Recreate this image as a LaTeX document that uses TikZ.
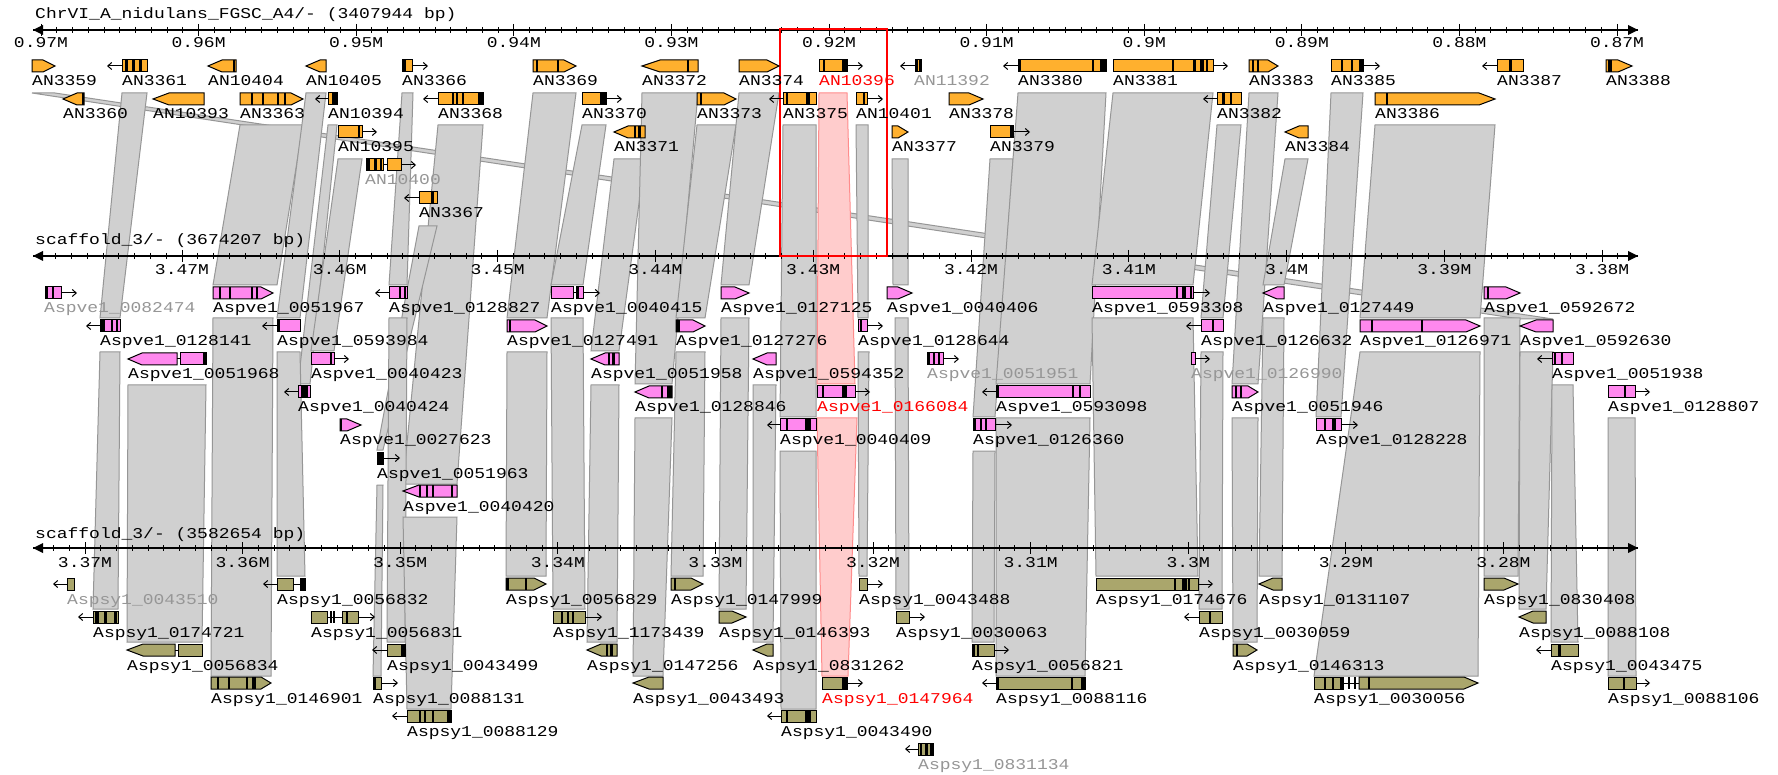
\documentclass[tikz,border=0pt]{standalone}
\usepackage{fontspec}
\newfontfamily\labfont[FakeStretch=1.2]{Liberation Mono}
\usetikzlibrary{arrows.meta}
\definecolor{orng}{RGB}{255,176,46}
\definecolor{pnk}{RGB}{255,136,238}
\definecolor{olv}{RGB}{170,166,108}
\definecolor{synfill}{RGB}{208,208,208}
\definecolor{synline}{RGB}{150,150,150}
\definecolor{redfill}{RGB}{255,204,204}
\definecolor{redline}{RGB}{255,140,140}
\definecolor{greytext}{RGB}{150,150,150}
\tikzset{
 gene/.style={draw=black,line width=1pt},
 stripe/.style={black,line width=1.6pt},
 dirarrow/.style={black,line width=1pt,-{Straight Barb[length=4pt,width=7pt]}},
 synp/.style={fill=synfill,draw=synline,line width=1pt},
 synr/.style={fill=redfill,draw=redline,line width=1pt},
 lbl/.style={anchor=base west,inner sep=0pt,font={\labfont\fontsize{15}{15}\selectfont}},
 ticklab/.style={anchor=base,inner sep=0pt,font={\labfont\fontsize{15}{15}\selectfont}},
 axisline/.style={black,line width=1.2pt},
}
\newcommand{\gB}[4]{\draw[gene,fill=#4] (#1,{#3-6}) rectangle (#2,{#3+6});}
\newcommand{\gR}[5]{\draw[gene,fill=#4] (#1,{#3-6}) -- ({#2-#5},{#3-6}) -- (#2,#3) -- ({#2-#5},{#3+6}) -- (#1,{#3+6}) -- cycle;}
\newcommand{\gL}[5]{\draw[gene,fill=#4] (#2,{#3-6}) -- ({#1+#5},{#3-6}) -- (#1,#3) -- ({#1+#5},{#3+6}) -- (#2,{#3+6}) -- cycle;}
\newcommand{\gst}[2]{\draw[stripe] (#1,{#2-6}) -- (#1,{#2+6});}
\newcommand{\gbk}[3]{\fill[black] (#1,{#3-6}) rectangle (#2,{#3+6});}
\newcommand{\gar}[3]{\draw[dirarrow] (#1,#3) -- (#2,#3);}
\newcommand{\gin}[3]{\draw[black,line width=1pt] (#1,#3) -- (#2,#3);}
\newcommand{\lan}[4]{\node[lbl,text=#4] (AN#1) at (#2,{#3+20}) {AN#1};}
\newcommand{\la}[5]{\node[lbl,text=#5] (#1-#2) at (#3,{#4+20}) {#1\_#2};}
\newcommand{\syn}[6]{\draw[synp] (#1,#3) -- (#2,#3) -- (#5,#6) -- (#4,#6) -- cycle;}
\newcommand{\synR}[6]{\draw[synr] (#1,#3) -- (#2,#3) -- (#5,#6) -- (#4,#6) -- cycle;}
\newcommand{\drawaxis}[3]{%
  \draw[axisline] (33,#1) -- (1638,#1);
  \foreach \i in {-10,...,100} {%
    \pgfmathsetmacro\xx{#2+\i*#3}%
    \ifdim\xx pt>44pt \ifdim\xx pt<1628pt \draw[black,line width=1pt] (\xx,{#1-3}) -- (\xx,{#1+3}); \fi\fi}
  \fill[black] (33,#1) -- (43,{#1-5}) -- (43,{#1+5}) -- cycle;
  \fill[black] (1638,#1) -- (1628,{#1-5}) -- (1628,{#1+5}) -- cycle;
}
\begin{document}
\begin{tikzpicture}[x=1pt,y=-1pt]
\fill[white] (0,0) rectangle (1778,775);
\useasboundingbox (0,0) rectangle (1778,775);

% ---------- synteny track1 -> track2
\syn{32}{55}{93}{1520}{1553}{319}
\syn{122}{147}{93}{100}{120}{318}
\syn{240}{303}{125}{213}{277}{285}
\syn{306}{326}{93}{277}{300}{318}
\syn{328}{337}{125}{298}{310}{384}
\syn{338}{362}{159}{311}{334}{351}
\syn{402}{413}{93}{389}{407}{285}
\syn{438}{483}{125}{403}{457}{484}
\syn{419}{437}{226}{377}{383}{450}
\syn{533}{576}{93}{507}{547}{318}
\syn{582}{606}{125}{551}{583}{285}
\syn{614}{645}{159}{591}{619}{351}
\syn{642}{698}{93}{635}{672}{384}
\syn{697}{736}{125}{676}{705}{318}
\syn{739}{779}{93}{721}{749}{285}
\syn{783}{816}{125}{780}{816}{417}
\synR{819}{847}{93}{817}{855}{384}
\syn{856}{868}{125}{858}{868}{318}
\syn{892}{908}{159}{893}{908}{285}
\syn{990}{1013}{159}{973}{995}{417}
\syn{1018}{1106}{93}{996}{1090}{384}
\syn{1113}{1213}{93}{1092}{1193}{285}
\syn{1217}{1241}{125}{1201}{1223}{318}
\syn{1249}{1278}{93}{1232}{1258}{384}
\syn{1285}{1308}{159}{1263}{1284}{285}
\syn{1331}{1363}{93}{1316}{1341}{417}
\syn{1375}{1495}{125}{1360}{1480}{318}
% ---------- synteny track2 -> track3
\syn{100}{120}{352}{93}{118}{609}
\syn{128}{206}{385}{127}{202}{642}
\syn{213}{273}{318}{211}{271}{676}
\syn{277}{300}{352}{277}{305}{576}
\syn{389}{407}{318}{387}{405}{642}
\syn{377}{383}{485}{373}{381}{676}
\syn{403}{457}{517}{407}{451}{709}
\syn{507}{547}{352}{506}{546}{576}
\syn{551}{583}{318}{553}{585}{609}
\syn{591}{619}{385}{587}{617}{642}
\syn{635}{672}{418}{633}{663}{676}
\syn{676}{705}{352}{671}{703}{576}
\syn{721}{749}{318}{719}{746}{609}
\syn{753}{776}{385}{753}{773}{642}
\syn{780}{816}{451}{781}{816}{709}
\synR{817}{857}{418}{822}{848}{676}
\syn{858}{869}{352}{859}{867}{576}
\syn{895}{908}{318}{896}{909}{609}
\syn{973}{995}{451}{972}{994}{642}
\syn{996}{1090}{418}{996}{1085}{676}
\syn{1092}{1193}{318}{1096}{1198}{576}
\syn{1201}{1223}{352}{1199}{1222}{609}
\syn{1232}{1258}{418}{1233}{1257}{642}
\syn{1263}{1284}{318}{1259}{1282}{576}
\syn{1360}{1480}{352}{1314}{1478}{676}
\syn{1484}{1520}{318}{1484}{1518}{576}
\syn{1520}{1553}{352}{1519}{1546}{609}
\syn{1552}{1573}{385}{1551}{1578}{642}
\syn{1608}{1635}{418}{1608}{1636}{676}

% ---------- axes
\node[lbl] (t1) at (35,19) {ChrVI\_A\_nidulans\_FGSC\_A4/- (3407944 bp)};
\drawaxis{30}{41}{15.76}
\foreach \k/\t in {0/0.97M,1/0.96M,2/0.95M,3/0.94M,4/0.93M,5/0.92M,6/0.91M,7/0.9M,8/0.89M,9/0.88M,10/0.87M}{
  \pgfmathsetmacro\xx{41+\k*157.6}
  \draw[black,line width=1pt] (\xx,24) -- (\xx,36);
  \node[ticklab] (ta\k) at (\xx,48) {\t};}
\node[lbl] (t2) at (35,245) {scaffold\_3/- (3674207 bp)};
\drawaxis{256}{182}{15.78}
\foreach \k/\t in {0/3.47M,1/3.46M,2/3.45M,3/3.44M,4/3.43M,5/3.42M,6/3.41M,7/3.4M,8/3.39M,9/3.38M}{
  \pgfmathsetmacro\xx{182+\k*157.8}
  \draw[black,line width=1pt] (\xx,250) -- (\xx,262);
  \node[ticklab] (tb\k) at (\xx,275) {\t};}
\node[lbl] (t3) at (35,538) {scaffold\_3/- (3582654 bp)};
\drawaxis{548}{85}{15.76}
\foreach \k/\t in {0/3.37M,1/3.36M,2/3.35M,3/3.34M,4/3.33M,5/3.32M,6/3.31M,7/3.3M,8/3.29M,9/3.28M}{
  \pgfmathsetmacro\xx{85+\k*157.6}
  \draw[black,line width=1pt] (\xx,542) -- (\xx,554);
  \node[ticklab] (tc\k) at (\xx,567) {\t};}

\draw[red,line width=1.5pt] (780,29) rectangle (887,256);

% ---------- track 1 genes
% row 1 (66)
\gR{32}{55}{66}{orng}{12} \lan{3359}{32}{66}{black}
\gar{122}{107}{66} \gB{122}{147}{66}{orng} \gbk{125}{128}{66} \gbk{132}{135}{66} \gbk{139}{142}{66} \lan{3361}{122}{66}{black}
\gL{208}{236}{66}{orng}{14} \gst{234}{66} \lan{10404}{208}{66}{black}
\gL{306}{326}{66}{orng}{14} \lan{10405}{306}{66}{black}
\gB{402}{412}{66}{orng} \gbk{402}{406}{66} \gar{412}{428}{66} \lan{3366}{402}{66}{black}
\gR{533}{576}{66}{orng}{12} \gst{537}{66} \gst{558}{66} \lan{3369}{533}{66}{black}
\gL{642}{698}{66}{orng}{18} \gst{688}{66} \lan{3372}{642}{66}{black}
\gR{739}{779}{66}{orng}{12} \lan{3374}{739}{66}{black}
\gB{819}{847}{66}{orng} \gst{824}{66} \gbk{842}{847}{66} \gar{847}{863}{66} \lan{10396}{819}{66}{red}
\gar{915}{900}{66} \gB{915}{921}{66}{orng} \gst{917}{66} \gst{920}{66} \lan{11392}{914}{66}{greytext}
\gar{1018}{1003}{66} \gB{1018}{1106}{66}{orng} \gst{1020}{66} \gst{1093}{66} \gbk{1100}{1106}{66} \lan{3380}{1018}{66}{black}
\gB{1113}{1213}{66}{orng} \gst{1173}{66} \gbk{1193}{1196}{66} \gbk{1200}{1204}{66} \gst{1207}{66} \gar{1213}{1228}{66} \lan{3381}{1113}{66}{black}
\gR{1249}{1278}{66}{orng}{10} \gst{1253}{66} \gst{1258}{66} \lan{3383}{1249}{66}{black}
\gB{1331}{1363}{66}{orng} \gst{1342}{66} \gst{1352}{66} \gbk{1359}{1363}{66} \gar{1363}{1380}{66} \lan{3385}{1331}{66}{black}
\gar{1497}{1482}{66} \gB{1497}{1523}{66}{orng} \gbk{1509}{1512}{66} \lan{3387}{1497}{66}{black}
\gR{1606}{1632}{66}{orng}{14} \gbk{1608}{1612}{66} \lan{3388}{1606}{66}{black}
% row 2 (99)
\gL{63}{84}{99}{orng}{14} \gst{83}{99} \lan{3360}{63}{99}{black}
\gL{153}{204}{99}{orng}{16} \lan{10393}{153}{99}{black}
\gR{240}{303}{99}{orng}{12} \gst{252}{99} \gst{263}{99} \gst{278}{99} \gst{285}{99} \lan{3363}{240}{99}{black}
\gar{328}{315}{99} \gB{328}{337}{99}{orng} \gbk{332}{337}{99} \lan{10394}{328}{99}{black}
\gar{438}{423}{99} \gB{438}{483}{99}{orng} \gst{453}{99} \gst{457}{99} \gst{463}{99} \gbk{478}{483}{99} \lan{3368}{438}{99}{black}
\gB{582}{606}{99}{orng} \gbk{600}{606}{99} \gar{606}{622}{99} \lan{3370}{582}{99}{black}
\gR{697}{736}{99}{orng}{12} \gst{701}{99} \lan{3373}{697}{99}{black}
\gar{783}{769}{99} \gB{783}{816}{99}{orng} \gst{787}{99} \gbk{806}{810}{99} \lan{3375}{783}{99}{black}
\gB{856}{867}{99}{orng} \gst{864}{99} \gar{867}{883}{99} \lan{10401}{856}{99}{black}
\gR{949}{983}{99}{orng}{14} \lan{3378}{949}{99}{black}
\gar{1217}{1203}{99} \gB{1217}{1241}{99}{orng} \gbk{1222}{1225}{99} \gst{1231}{99} \lan{3382}{1217}{99}{black}
\gR{1375}{1495}{99}{orng}{16} \gst{1387}{99} \lan{3386}{1375}{99}{black}
% row 3 (132)
\gB{338}{362}{132}{orng} \gst{359}{132} \gar{362}{377}{132} \lan{10395}{338}{132}{black}
\gL{614}{645}{132}{orng}{14} \gst{635}{132} \gbk{638}{641}{132} \lan{3371}{614}{132}{black}
\gR{892}{908}{132}{orng}{10} \lan{3377}{892}{132}{black}
\gB{990}{1013}{132}{orng} \gbk{1010}{1013}{132} \gar{1013}{1030}{132} \lan{3379}{990}{132}{black}
\gL{1285}{1308}{132}{orng}{14} \lan{3384}{1285}{132}{black}
% row 4 (165)
\gin{383}{387}{165} \gB{366}{383}{165}{orng} \gbk{367}{370}{165} \gbk{374}{377}{165} \gst{381}{165}
\gB{387}{401}{165}{orng} \gar{401}{416}{165} \lan{10400}{365}{165}{greytext}
% row 5 (198)
\gar{419}{404}{198} \gB{419}{437}{198}{orng} \gbk{431}{434}{198} \lan{3367}{419}{198}{black}

% ---------- track 2 genes
% row 1 (293)
\gB{45}{61}{293}{pnk} \gbk{45}{48}{293} \gst{53}{293} \gar{61}{77}{293} \la{Aspve1}{0082474}{44}{293}{greytext}
\gR{213}{273}{293}{pnk}{12} \gst{220}{293} \gst{230}{293} \gst{252}{293} \gst{257}{293} \la{Aspve1}{0051967}{213}{293}{black}
\gar{389}{375}{293} \gB{389}{407}{293}{pnk} \gst{400}{293} \gst{405}{293} \la{Aspve1}{0128827}{389}{293}{black}
\gB{551}{573}{293}{pnk} \gin{573}{576}{293} \gB{576}{583}{293}{pnk} \gst{578}{293} \gar{583}{600}{293} \la{Aspve1}{0040415}{551}{293}{black}
\gR{721}{749}{293}{pnk}{14} \la{Aspve1}{0127125}{721}{293}{black}
\gR{887}{912}{293}{pnk}{14} \la{Aspve1}{0040406}{887}{293}{black}
\gB{1092}{1193}{293}{pnk} \gst{1177}{293} \gbk{1182}{1186}{293} \gst{1191}{293} \gar{1193}{1210}{293} \la{Aspve1}{0593308}{1092}{293}{black}
\gL{1263}{1284}{293}{pnk}{14} \la{Aspve1}{0127449}{1263}{293}{black}
\gR{1484}{1520}{293}{pnk}{14} \gst{1488}{293} \la{Aspve1}{0592672}{1484}{293}{black}
% row 2 (326)
\gar{100}{86}{326} \gB{100}{120}{326}{pnk} \gbk{100}{105}{326} \gst{112}{326} \gst{117}{326} \la{Aspve1}{0128141}{100}{326}{black}
\gar{277}{262}{326} \gB{277}{300}{326}{pnk} \gst{279}{326} \la{Aspve1}{0593984}{277}{326}{black}
\gR{507}{547}{326}{pnk}{12} \gst{510}{326} \la{Aspve1}{0127491}{507}{326}{black}
\gR{676}{705}{326}{pnk}{12} \gbk{676}{680}{326} \la{Aspve1}{0127276}{676}{326}{black}
\gB{858}{867}{326}{pnk} \gst{861}{326} \gar{867}{883}{326} \la{Aspve1}{0128644}{858}{326}{black}
\gar{1201}{1186}{326} \gB{1201}{1223}{326}{pnk} \gst{1213}{326} \la{Aspve1}{0126632}{1201}{326}{black}
\gR{1360}{1480}{326}{pnk}{14} \gst{1372}{326} \gst{1422}{326} \la{Aspve1}{0126971}{1360}{326}{black}
\gL{1520}{1553}{326}{pnk}{16} \la{Aspve1}{0592630}{1520}{326}{black}
% row 3 (359)
\gL{128}{177}{359}{pnk}{14} \gin{177}{180}{359} \gB{180}{206}{359}{pnk} \gbk{203}{206}{359} \la{Aspve1}{0051968}{128}{359}{black}
\gB{311}{334}{359}{pnk} \gst{331}{359} \gar{334}{349}{359} \la{Aspve1}{0040423}{311}{359}{black}
\gL{591}{619}{359}{pnk}{14} \gst{609}{359} \gbk{612}{615}{359} \la{Aspve1}{0051958}{591}{359}{black}
\gL{753}{776}{359}{pnk}{14} \la{Aspve1}{0594352}{753}{359}{black}
\gB{927}{943}{359}{pnk} \gst{929}{359} \gst{934}{359} \gst{939}{359} \gar{943}{959}{359} \la{Aspve1}{0051951}{927}{359}{greytext}
\gB{1191}{1195}{359}{pnk} \gar{1195}{1210}{359} \la{Aspve1}{0126990}{1191}{359}{greytext}
\gar{1552}{1537}{359} \gB{1552}{1573}{359}{pnk} \gst{1555}{359} \gst{1562}{359} \la{Aspve1}{0051938}{1552}{359}{black}
% row 4 (392)
\gar{298}{284}{392} \gB{298}{310}{392}{pnk} \gbk{301}{308}{392} \la{Aspve1}{0040424}{298}{392}{black}
\gL{635}{672}{392}{pnk}{14} \gst{662}{392} \gbk{667}{672}{392} \la{Aspve1}{0128846}{635}{392}{black}
\gB{817}{855}{392}{pnk} \gst{823}{392} \gbk{842}{847}{392} \gar{855}{870}{392} \la{Aspve1}{0166084}{817}{392}{red}
\gar{996}{982}{392} \gB{996}{1090}{392}{pnk} \gbk{996}{999}{392} \gst{1073}{392} \gst{1080}{392} \la{Aspve1}{0593098}{996}{392}{black}
\gR{1232}{1258}{392}{pnk}{10} \gst{1236}{392} \gst{1241}{392} \la{Aspve1}{0051946}{1232}{392}{black}
\gB{1608}{1635}{392}{pnk} \gst{1625}{392} \gar{1635}{1650}{392} \la{Aspve1}{0128807}{1608}{392}{black}
% row 5 (425)
\gR{340}{361}{425}{pnk}{14} \gst{341}{425} \la{Aspve1}{0027623}{340}{425}{black}
\gar{780}{767}{425} \gB{780}{816}{425}{pnk} \gst{787}{425} \gbk{805}{811}{425} \la{Aspve1}{0040409}{780}{425}{black}
\gB{973}{995}{425}{pnk} \gst{975}{425} \gst{981}{425} \gst{986}{425} \gar{995}{1012}{425} \la{Aspve1}{0126360}{973}{425}{black}
\gB{1316}{1341}{425}{pnk} \gst{1325}{425} \gbk{1332}{1336}{425} \gar{1341}{1358}{425} \la{Aspve1}{0128228}{1316}{425}{black}
% row 6 (458)
\gB{377}{383}{458}{pnk} \gbk{377}{383}{458} \gar{383}{400}{458} \la{Aspve1}{0051963}{377}{458}{black}
% row 7 (491)
\gL{403}{457}{491}{pnk}{16} \gst{420}{491} \gst{427}{491} \gst{433}{491} \gst{452}{491} \la{Aspve1}{0040420}{403}{491}{black}

% ---------- track 3 genes
% row 1 (584)
\gar{67}{53}{584} \gB{67}{74}{584}{olv} \la{Aspsy1}{0043510}{67}{584}{greytext}
\gar{277}{263}{584} \gB{277}{293}{584}{olv} \gin{293}{300}{584} \gB{300}{305}{584}{olv} \gbk{301}{305}{584} \la{Aspsy1}{0056832}{277}{584}{black}
\gR{506}{546}{584}{olv}{12} \gbk{506}{509}{584} \gst{526}{584} \la{Aspsy1}{0056829}{506}{584}{black}
\gR{671}{703}{584}{olv}{12} \gst{675}{584} \la{Aspsy1}{0147999}{671}{584}{black}
\gB{859}{867}{584}{olv} \gar{867}{883}{584} \la{Aspsy1}{0043488}{859}{584}{black}
\gB{1096}{1198}{584}{olv} \gst{1175}{584} \gbk{1182}{1187}{584} \gst{1189}{584} \gar{1198}{1213}{584} \la{Aspsy1}{0174676}{1096}{584}{black}
\gL{1259}{1282}{584}{olv}{14} \la{Aspsy1}{0131107}{1259}{584}{black}
\gR{1484}{1518}{584}{olv}{14} \la{Aspsy1}{0830408}{1484}{584}{black}
% row 2 (617)
\gar{93}{78}{617} \gB{93}{118}{617}{olv} \gbk{95}{99}{617} \gbk{104}{107}{617} \gbk{114}{117}{617} \la{Aspsy1}{0174721}{93}{617}{black}
\gin{327}{342}{617} \gB{311}{327}{617}{olv} \gst{331}{617} \gst{334}{617} \gB{342}{358}{617}{olv} \gst{347}{617} \gar{358}{375}{617} \la{Aspsy1}{0056831}{311}{617}{black}
\gB{553}{585}{617}{olv} \gst{562}{617} \gst{568}{617} \gst{573}{617} \gar{585}{602}{617} \la{Aspsy1}{1173439}{553}{617}{black}
\gR{719}{746}{617}{olv}{14} \la{Aspsy1}{0146393}{719}{617}{black}
\gB{896}{909}{617}{olv} \gar{909}{925}{617} \la{Aspsy1}{0030063}{896}{617}{black}
\gar{1199}{1184}{617} \gB{1199}{1222}{617}{olv} \gst{1210}{617} \la{Aspsy1}{0030059}{1199}{617}{black}
\gL{1519}{1546}{617}{olv}{14} \la{Aspsy1}{0088108}{1519}{617}{black}
% row 3 (650)
\gL{127}{175}{650}{olv}{16} \gin{175}{178}{650} \gB{178}{202}{650}{olv} \la{Aspsy1}{0056834}{127}{650}{black}
\gar{387}{372}{650} \gB{387}{405}{650}{olv} \gbk{401}{405}{650} \la{Aspsy1}{0043499}{387}{650}{black}
\gL{587}{617}{650}{olv}{14} \gst{607}{650} \gbk{610}{613}{650} \la{Aspsy1}{0147256}{587}{650}{black}
\gL{753}{773}{650}{olv}{14} \la{Aspsy1}{0831262}{753}{650}{black}
\gB{972}{977}{650}{olv} \gst{974}{650} \gB{978}{994}{650}{olv} \gar{994}{1009}{650} \la{Aspsy1}{0056821}{972}{650}{black}
\gR{1233}{1257}{650}{olv}{10} \gst{1237}{650} \la{Aspsy1}{0146313}{1233}{650}{black}
\gar{1551}{1536}{650} \gB{1551}{1578}{650}{olv} \gbk{1558}{1561}{650} \la{Aspsy1}{0043475}{1551}{650}{black}
% row 4 (683)
\gR{211}{271}{683}{olv}{10} \gst{218}{683} \gst{229}{683} \gst{247}{683} \gbk{252}{256}{683} \la{Aspsy1}{0146901}{211}{683}{black}
\gB{373}{381}{683}{olv} \gbk{373}{376}{683} \gar{381}{398}{683} \la{Aspsy1}{0088131}{373}{683}{black}
\gL{633}{663}{683}{olv}{16} \la{Aspsy1}{0043493}{633}{683}{black}
\gB{822}{847}{683}{olv} \gbk{842}{847}{683} \gar{847}{863}{683} \la{Aspsy1}{0147964}{822}{683}{red}
\gar{996}{982}{683} \gB{996}{1085}{683}{olv} \gbk{996}{999}{683} \gbk{1071}{1073}{683} \gbk{1081}{1085}{683} \la{Aspsy1}{0088116}{996}{683}{black}
\gin{1343}{1359}{683} \gB{1314}{1343}{683}{olv} \gst{1325}{683} \gst{1333}{683} \gbk{1340}{1343}{683} \gst{1349}{683} \gst{1355}{683}
\gR{1359}{1478}{683}{olv}{14} \gst{1369}{683} \la{Aspsy1}{0030056}{1314}{683}{black}
\gB{1608}{1636}{683}{olv} \gst{1624}{683} \gar{1636}{1650}{683} \la{Aspsy1}{0088106}{1608}{683}{black}
% row 5 (716)
\gar{407}{392}{716} \gB{407}{451}{716}{olv} \gst{420}{716} \gst{425}{716} \gst{433}{716} \gbk{447}{451}{716} \la{Aspsy1}{0088129}{407}{716}{black}
\gar{781}{767}{716} \gB{781}{816}{716}{olv} \gst{787}{716} \gbk{805}{811}{716} \la{Aspsy1}{0043490}{781}{716}{black}
% row 6 (749)
\gar{918}{905}{749} \gB{918}{933}{749}{olv} \gst{921}{749} \gbk{925}{928}{749} \gbk{930}{933}{749} \la{Aspsy1}{0831134}{918}{749}{greytext}
\end{tikzpicture}
\end{document}
